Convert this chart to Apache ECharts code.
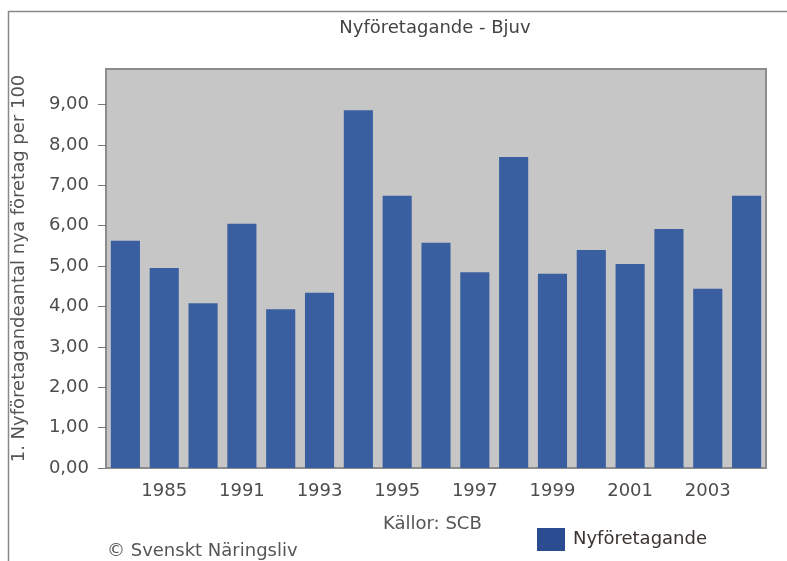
<!DOCTYPE html>
<html>
<head>
<meta charset="utf-8">
<script src="https://cdn.jsdelivr.net/npm/echarts@6/dist/echarts.min.js"></script>
<style>
  html, body { margin: 0; padding: 0; background: #fff; }
  #chart { width: 787px; height: 561px; }
</style>
</head>
<body>
<div id="chart"></div>
<script>
// years (only every other one is labelled in the original)
const years = ['1984', '1985', '1990', '1991', '1992', '1993', '1994', '1995', '1996',
  '1997', '1998', '1999', '2000', '2001', '2002', '2003', '2004'];
// nya företag per 100
const nyforetagande = [5.63, 4.95, 4.08, 6.05, 3.93, 4.34, 8.86, 6.74, 5.58,
  4.85, 7.70, 4.81, 5.40, 5.05, 5.92, 4.44, 6.74];
const yTicks = [0, 1, 2, 3, 4, 5, 6, 7, 8, 9];

const font = 'DejaVu Sans';
const myChart = echarts.init(document.getElementById('chart'));

myChart.setOption({
  backgroundColor: '#fff',
  animation: false,
  title: {
    text: 'Nyföretagande - Bjuv',
    left: 430,
    textAlign: 'center',
    top: 14,
    textStyle: { fontFamily: font, fontSize: 18, fontWeight: 'normal', color: '#444' }
  },
  legend: {
    left: 532,
    top: 523,
    itemWidth: 28,
    itemHeight: 23,
    icon: 'rect',
    textStyle: { fontFamily: font, fontSize: 18, color: '#3b3330', padding: [0, 0, 0, 3] },
    data: [{ name: 'Nyföretagande', itemStyle: { color: '#2b4c91' } }]
  },
  grid: {
    left: 106,
    right: 21,
    top: 69,
    bottom: 93,
    outerBoundsMode: 'none',
    show: true,
    backgroundColor: '#c6c6c6',
    borderColor: '#8c8c8c',
    borderWidth: 2
  },
  xAxis: {
    type: 'category',
    data: years,
    axisLine: { lineStyle: { color: '#8c8c8c', width: 2 } },
    axisTick: {
      alignWithLabel: true,
      interval: (i) => i % 2 === 1,
      length: 8,
      lineStyle: { color: '#777' }
    },
    axisLabel: {
      interval: (i) => i % 2 === 1,
      margin: 14,
      fontFamily: font,
      fontSize: 18,
      color: '#4d4d4d'
    }
  },
  yAxis: {
    type: 'value',
    min: 0,
    max: 9.88,
    name: '1. Nyföretagandeantal nya företag per 100',
    nameLocation: 'middle',
    nameRotate: 90,
    nameGap: 78,
    nameTextStyle: { fontFamily: font, fontSize: 18, color: '#555' },
    axisLine: { show: true, lineStyle: { color: '#8c8c8c', width: 2 } },
    axisTick: { show: true, customValues: yTicks, length: 8, lineStyle: { color: '#777' } },
    splitLine: { show: false },
    axisLabel: {
      customValues: yTicks,
      margin: 17,
      fontFamily: font,
      fontSize: 18,
      color: '#4d4d4d',
      formatter: (v) => v.toFixed(2).replace('.', ',')
    }
  },
  series: [{
    name: 'Nyföretagande',
    type: 'bar',
    data: nyforetagande,
    barCategoryGap: '25%',
    itemStyle: { color: '#3a5fa1' }
  }],
  graphic: [
    {
      type: 'rect',
      shape: { x: 8.5, y: 11.5, width: 900, height: 700 },
      style: { fill: 'none', stroke: '#888', lineWidth: 1.5 },
      silent: true
    },
    {
      type: 'text',
      left: 383,
      top: 515,
      style: { text: 'Källor: SCB', font: '18px "DejaVu Sans"', fill: '#555' }
    },
    {
      type: 'text',
      left: 107,
      top: 542,
      style: { text: '© Svenskt Näringsliv', font: '18px "DejaVu Sans"', fill: '#555' }
    }
  ]
});
</script>
</body>
</html>
